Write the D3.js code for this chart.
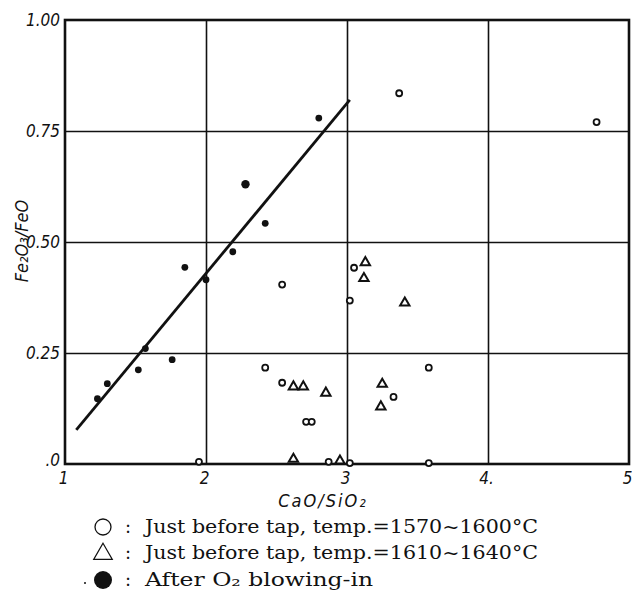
<!DOCTYPE html>
<html>
<head>
<meta charset="utf-8">
<script src="https://cdn.jsdelivr.net/npm/d3@7"></script>
<style>
  body { margin: 0; background: #fff; }
  .tick text { font-family: 'DejaVu Sans Condensed', 'Liberation Sans Narrow', sans-serif; font-style: italic; font-size: 17px; fill: #111; }
  .axisText { font-family: 'DejaVu Sans Condensed', 'Liberation Sans Narrow', sans-serif; font-style: italic; font-size: 18px; fill: #111; }
  .legend { font-family: 'DejaVu Serif', 'Liberation Serif', serif; font-size: 18px; fill: #111; }
</style>
</head>
<body>
<div class="chart"></div>
<script>
// Fe2O3/FeO vs CaO/SiO2

const xTicks = [1, 2, 3, 4, 5]
const xTickLabels = ['1', '2', '3', '4.', '5']
const yTicks = [0, 0.25, 0.5, 0.75, 1]
const yTickLabels = ['.0', '0.25', '0.50', '0.75', '1.00']

// open circles: just before tap, 1570~1600°C
const circleX = [3.37, 4.77, 2.54, 2.42, 2.54, 2.71, 2.75, 1.95, 3.05, 3.02, 3.58, 3.33, 2.87, 3.02, 3.58]
const circleY = [0.835, 0.770, 0.404, 0.217, 0.183, 0.095, 0.095, 0.005, 0.442, 0.368, 0.217, 0.151, 0.005, 0.002, 0.002]

// triangles: just before tap, 1610~1640°C
const triX = [2.62, 2.69, 2.62, 3.13, 3.12, 3.41, 2.85, 3.25, 3.24, 2.95]
const triY = [0.174, 0.174, 0.011, 0.454, 0.418, 0.363, 0.160, 0.180, 0.129, 0.007]

// filled dots: after O2 blowing-in
const dotX = [1.23, 1.30, 1.52, 1.57, 1.76, 1.85, 2.00, 2.19, 2.28, 2.42, 2.80]
const dotY = [0.147, 0.181, 0.212, 0.260, 0.235, 0.443, 0.415, 0.478, 0.630, 0.542, 0.779]

// fitted line end points
const fitX = [1.08, 3.02]
const fitY = [0.077, 0.82]

const legendLabels = [
  'Just before tap, temp.=1570~1600°C',
  'Just before tap, temp.=1610~1640°C',
  'After O\u2082 blowing-in'
]

const width = 632
const height = 592

const svg = d3.select('.chart')
  .append('svg')
  .attr('width', width)
  .attr('height', height)

const xScale = d3.scaleLinear().domain([1, 5]).range([65, 629])
const yScale = d3.scaleLinear().domain([0, 1]).range([464, 20])

// grid
const xGrid = d3.axisBottom(xScale)
  .tickValues(xTicks.slice(1, -1))
  .tickSize(-(yScale(0) - yScale(1)))
  .tickFormat('')
svg.append('g')
  .attr('transform', `translate(0, ${yScale(0)})`)
  .call(xGrid)
  .call(g => g.select('.domain').remove())
  .call(g => g.selectAll('line').attr('stroke', '#111').attr('stroke-width', 1.6))

const yGrid = d3.axisLeft(yScale)
  .tickValues(yTicks.slice(1, -1))
  .tickSize(-(xScale(5) - xScale(1)))
  .tickFormat('')
svg.append('g')
  .attr('transform', `translate(${xScale(1)}, 0)`)
  .call(yGrid)
  .call(g => g.select('.domain').remove())
  .call(g => g.selectAll('line').attr('stroke', '#111').attr('stroke-width', 1.6))

// frame
svg.append('rect')
  .attr('x', xScale(1))
  .attr('y', yScale(1))
  .attr('width', xScale(5) - xScale(1))
  .attr('height', yScale(0) - yScale(1))
  .attr('fill', 'none')
  .attr('stroke', '#111')
  .attr('stroke-width', 2.6)

// tick labels
const xAxis = d3.axisBottom(xScale)
  .tickValues(xTicks)
  .tickSize(0)
  .tickPadding(8)
  .tickFormat((d, i) => xTickLabels[i])
svg.append('g')
  .attr('transform', `translate(-2, ${yScale(0)})`)
  .call(xAxis)
  .call(g => g.select('.domain').remove())

const yAxis = d3.axisLeft(yScale)
  .tickValues(yTicks)
  .tickSize(0)
  .tickPadding(5)
  .tickFormat((d, i) => yTickLabels[i])
svg.append('g')
  .attr('transform', `translate(${xScale(1)}, 0)`)
  .call(yAxis)
  .call(g => g.select('.domain').remove())
  .call(g => g.selectAll('.tick').filter(d => d === 0).select('text').attr('dy', '0.1em'))

// axis titles
svg.append('text')
  .attr('class', 'axisText')
  .attr('transform', 'translate(28, 241) rotate(-90)')
  .attr('text-anchor', 'middle')
  .text('Fe\u2082O\u2083/FeO')

svg.append('text')
  .attr('class', 'axisText')
  .attr('x', 323)
  .attr('y', 507)
  .attr('text-anchor', 'middle')
  .attr('letter-spacing', '2px')
  .text('CaO/SiO\u2082')

// fitted line
svg.append('line')
  .attr('x1', xScale(fitX[0]))
  .attr('y1', yScale(fitY[0]))
  .attr('x2', xScale(fitX[1]))
  .attr('y2', yScale(fitY[1]))
  .attr('stroke', '#111')
  .attr('stroke-width', 2.8)

// markers
svg.append('g').selectAll('circle')
  .data(circleX)
  .enter()
  .append('circle')
  .attr('cx', (d, i) => xScale(d))
  .attr('cy', (d, i) => yScale(circleY[i]))
  .attr('r', 3)
  .attr('fill', '#fff')
  .attr('stroke', '#111')
  .attr('stroke-width', 1.8)

const tri = d3.symbol().type(d3.symbolTriangle).size(38)
svg.append('g').selectAll('path')
  .data(triX)
  .enter()
  .append('path')
  .attr('d', tri)
  .attr('transform', (d, i) => `translate(${xScale(d)}, ${yScale(triY[i])})`)
  .attr('fill', '#fff')
  .attr('stroke', '#111')
  .attr('stroke-width', 2)

svg.append('g').selectAll('circle')
  .data(dotX)
  .enter()
  .append('circle')
  .attr('cx', d => xScale(d))
  .attr('cy', (d, i) => yScale(dotY[i]))
  .attr('r', (d, i) => i === 8 ? 4.2 : 3.4)
  .attr('fill', '#111')

// legend
const legendY = [527, 553, 580]
const legend = svg.append('g')

legend.append('circle')
  .attr('cx', 103).attr('cy', legendY[0]).attr('r', 8)
  .attr('fill', 'none').attr('stroke', '#111').attr('stroke-width', 1.3)

legend.append('path')
  .attr('d', d3.symbol().type(d3.symbolTriangle).size(150))
  .attr('transform', `translate(103, ${legendY[1] + 1})`)
  .attr('fill', 'none').attr('stroke', '#111').attr('stroke-width', 1.2)

legend.append('circle')
  .attr('cx', 103).attr('cy', legendY[2]).attr('r', 9)
  .attr('fill', '#111')

legend.append('circle')
  .attr('cx', 85).attr('cy', legendY[2] + 3).attr('r', 1)
  .attr('fill', '#111')

legend.selectAll('text.colon')
  .data(legendLabels)
  .enter()
  .append('text')
  .attr('class', 'legend colon')
  .attr('x', 128)
  .attr('y', (d, i) => legendY[i] + 6)
  .attr('text-anchor', 'middle')
  .text(':')

const legendWidths = [393, 393, 228]
legend.selectAll('text.label')
  .data(legendLabels)
  .enter()
  .append('text')
  .attr('class', 'legend label')
  .attr('x', 145)
  .attr('y', (d, i) => legendY[i] + 6)
  .attr('textLength', (d, i) => legendWidths[i])
  .attr('lengthAdjust', 'spacingAndGlyphs')
  .text(d => d)
</script>
</body>
</html>
